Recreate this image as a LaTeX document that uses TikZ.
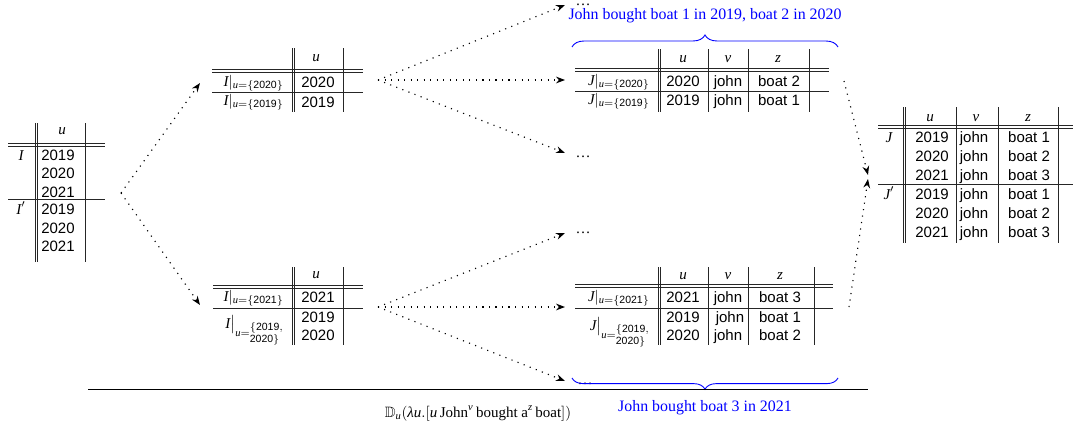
\documentclass[tikz,border=0pt]{standalone}
\usepackage{amsmath}
\usepackage{amssymb}
\usepackage{fontspec}
\setmainfont{Liberation Serif}
\setsansfont{Liberation Sans}
\usetikzlibrary{arrows.meta,decorations.pathreplacing}
\newcommand{\vit}[1]{\textit{#1}}
\begin{document}
\begin{tikzpicture}[x=0.6667pt,y=-0.6667pt,
  rule/.style={line width=0.55pt, black!85},
  cell/.style={font=\sffamily, inner sep=0pt, anchor=base},
  hd/.style={inner sep=0pt, anchor=base, font=\itshape},
  lbl/.style={inner sep=0pt, anchor=base east},
  flow/.style={line width=0.75pt, dash pattern=on 0.75pt off 3.6pt, -{Stealth[length=6pt,width=4.5pt]}},
  dotsn/.style={inner sep=0pt, anchor=base},
  brc/.style={blue, line width=0.6pt, decorate},
  btxt/.style={blue, inner sep=0pt, anchor=base, font=\fontsize{10.6}{12}\selectfont}]
\useasboundingbox (0,0) rectangle (1073,432);

% ---------- Table T0 ----------
\draw[rule] (35,123) -- (35,262) (37.5,123) -- (37.5,262) (85,123) -- (85,262);
\draw[rule] (8,143.5) -- (105,143.5) (8,146) -- (105,146) (8,199) -- (105,199);
\node[hd] (t0h) at (62,134.5) {u};
\node[cell] (t0a) at (58,160) {2019};
\node[cell] (t0b) at (58,178) {2020};
\node[cell] (t0c) at (58,197) {2021};
\node[cell] (t0d) at (58,214) {2019};
\node[cell] (t0e) at (58,233) {2020};
\node[cell] (t0f) at (58,251) {2021};
\node[hd] (t0i) at (21,160) {I};
\node[hd] (t0j) at (21,214) {$\vit{I}'$};

% ---------- Table T1 ----------
\draw[rule] (292,48) -- (292,112) (294.5,48) -- (294.5,112) (343,48) -- (343,112);
\draw[rule] (212,69.5) -- (363,69.5) (212,72) -- (363,72) (212,92) -- (363,92);
\node[hd] (t1h) at (316,61.5) {u};
\node[cell] (t1a) at (318,87) {2020};
\node[cell] (t1b) at (318,107) {2019};
\node[lbl] (t1la) at (284,86) {$\vit{I}|_{\vit{u}=\{\textsf{2020}\}}$};
\node[lbl] (t1lb) at (284,105) {$\vit{I}|_{\vit{u}=\{\textsf{2019}\}}$};

% ---------- Table T2 ----------
\draw[rule] (292,267) -- (292,345) (294.5,267) -- (294.5,345) (343,267) -- (343,345);
\draw[rule] (213,285.5) -- (363,285.5) (213,288) -- (363,288) (213,308) -- (363,308);
\node[hd] (t2h) at (316,278.5) {u};
\node[cell] (t2a) at (318,302) {2021};
\node[cell] (t2b) at (318,322) {2019};
\node[cell] (t2c) at (318,340) {2020};
\node[lbl] (t2la) at (284,301) {$\vit{I}|_{\vit{u}=\{\textsf{2021}\}}$};
\node[lbl] (t2lb) at (284,328) {$\vit{I}\big|_{\vit{u}=\begin{subarray}{r}\{\textsf{2019},\\ \textsf{2020}\}\end{subarray}}$};

% ---------- Table T3 ----------
\draw[rule] (658,49) -- (658,112) (660.5,49) -- (660.5,112) (708,49) -- (708,112) (748,49) -- (748,112) (809,49) -- (809,112);
\draw[rule] (575,68.5) -- (829,68.5) (575,71) -- (829,71) (575,91) -- (829,91);
\node[hd] (t3hu) at (683,62.5) {u};
\node[hd] (t3hv) at (728,62.5) {v};
\node[hd] (t3hz) at (778,62.5) {z};
\node[cell] (t3a1) at (683,86) {2020};
\node[cell] (t3a2) at (728,86) {john};
\node[cell] (t3a3) at (779,86) {boat 2};
\node[cell] (t3b1) at (683,105) {2019};
\node[cell] (t3b2) at (728,105) {john};
\node[cell] (t3b3) at (779,105) {boat 1};
\node[lbl] (t3la) at (650,85) {$\vit{J}|_{\vit{u}=\{\textsf{2020}\}}$};
\node[lbl] (t3lb) at (650,104) {$\vit{J}|_{\vit{u}=\{\textsf{2019}\}}$};

% ---------- Table T4 ----------
\draw[rule] (658,267) -- (658,345) (660.5,267) -- (660.5,345) (708,267) -- (708,345) (748,267) -- (748,345) (814,267) -- (814,345);
\draw[rule] (575,284.5) -- (833,284.5) (575,287) -- (833,287) (575,308) -- (833,308);
\node[hd] (t4hu) at (683,279.5) {u};
\node[hd] (t4hv) at (728,279.5) {v};
\node[hd] (t4hz) at (780,279.5) {z};
\node[cell] (t4a1) at (683,302) {2021};
\node[cell] (t4a2) at (728,302) {john};
\node[cell] (t4a3) at (780,302) {boat 3};
\node[cell] (t4b1) at (683,322) {2019};
\node[cell] (t4b2) at (730,322) {john};
\node[cell] (t4b3) at (780,322) {boat 1};
\node[cell] (t4c1) at (683,340) {2020};
\node[cell] (t4c2) at (728,340) {john};
\node[cell] (t4c3) at (780,340) {boat 2};
\node[lbl] (t4la) at (650,301) {$\vit{J}|_{\vit{u}=\{\textsf{2021}\}}$};
\node[lbl] (t4lb) at (650,330) {$\vit{J}\big|_{\vit{u}=\begin{subarray}{r}\{\textsf{2019},\\ \textsf{2020}\}\end{subarray}}$};

% ---------- Table T5 ----------
\draw[rule] (903,107) -- (903,243) (905.5,107) -- (905.5,243) (956,107) -- (956,243) (998,107) -- (998,243) (1058,107) -- (1058,243);
\draw[rule] (878,125.5) -- (1073,125.5) (878,128) -- (1073,128) (878,184) -- (1073,184);
\node[hd] (t5hu) at (930,121.5) {u};
\node[hd] (t5hv) at (976,121.5) {v};
\node[hd] (t5hz) at (1028,121.5) {z};
\foreach \r/\y/\yr/\bt in {a/142/2019/1,b/161/2020/2,c/180/2021/3,d/199/2019/1,e/218/2020/2,f/237/2021/3}{
  \node[cell] (t5\r1) at (932,\y) {\yr};
  \node[cell] (t5\r2) at (974,\y) {john};
  \node[cell] (t5\r3) at (1029,\y) {boat \bt};
}
\node[hd] (t5j) at (889,142) {J};
\node[hd] (t5jp) at (889,199) {$\vit{J}'$};

% ---------- ellipsis nodes ----------
\node[dotsn] (d1) at (583,5.5) {\dots};
\node[dotsn] (d2) at (583,157) {\dots};
\node[dotsn] (d3) at (583,233) {\dots};
\node[dotsn] (d4) at (585,384) {\dots};

% ---------- connector end points ----------
\coordinate (s0) at (121,193);
\coordinate (e01) at (200,83);
\coordinate (e02) at (200,305);
\coordinate (s1) at (378,80);
\coordinate (e11) at (565,5);
\coordinate (e12) at (565,80);
\coordinate (e13) at (565,153);
\coordinate (s2) at (378,307);
\coordinate (e21) at (565,233);
\coordinate (e22) at (565,307);
\coordinate (e23) at (565,381);
\coordinate (s3) at (844,81);
\coordinate (s4) at (849,307);
\coordinate (e31) at (868,175);
\coordinate (e41) at (868,179);

\draw[flow] (s0) -- (e01);
\draw[flow] (s0) -- (e02);
\draw[flow] (s1) -- (e11);
\draw[flow] (s1) -- (e12);
\draw[flow] (s1) -- (e13);
\draw[flow] (s2) -- (e21);
\draw[flow] (s2) -- (e22);
\draw[flow] (s2) -- (e23);
\draw[flow] (s3) -- (e31);
\draw[flow] (s4) -- (e41);

% ---------- braces and captions ----------
\draw[brc, decoration={brace, amplitude=8pt}] (572,47) -- (838,47);
\node[btxt] (cap1) at (705,19) {John bought boat 1 in 2019, boat 2 in 2020};
\draw[brc, decoration={brace, amplitude=7.5pt}] (838,378) -- (572,378);
\node[btxt] (cap2) at (705,411) {John bought boat 3 in 2021};

% ---------- bottom rule and formula ----------
\coordinate (bl) at (88,389);
\coordinate (br) at (868,389);
\draw[line width=0.6pt] (bl) -- (br);
\node[inner sep=0pt, anchor=base] (form) at (478,417) {$\mathbb{D}_{\vit{u}}(\vit{λu}.[\vit{u}\,\text{John}^{\vit{v}}\,\text{bought a}^{\vit{z}}\,\text{boat}])$};
\end{tikzpicture}
\end{document}
